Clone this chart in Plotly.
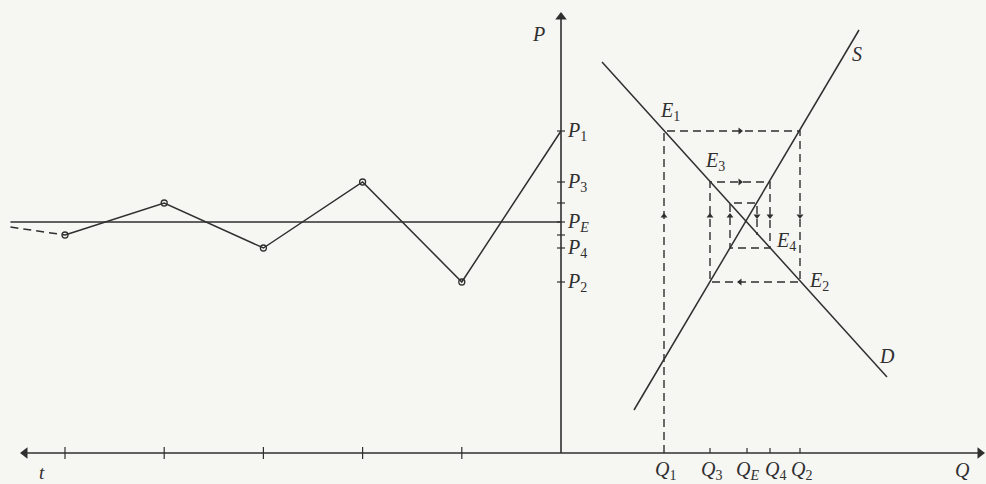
import plotly.graph_objects as go

# ---------------- data ----------------
# price levels (vertical axis units, axis origin = horizontal axis)
price_subs = ["1", "2", "3", "4", "", ""]
price_values = [322, 171, 271, 205, 250, 218]        # P1..P6
pe_value = 231                                       # equilibrium price P_E
# quantities reached in each period (horizontal axis units, right of P axis)
qty_subs = ["1", "2", "3", "4", "", ""]
qty_values = [103, 239, 149, 209, 169, 196]          # Q1..Q6
qe_value = 186                                       # equilibrium quantity Q_E
# demand and supply lines (end points)
demand_q = [41, 326]
demand_p = [391, 76]
supply_q = [73, 298]
supply_p = [43, 423]
# time path: periods 0..5 drawn to the left of the P axis
periods = [0, 1, 2, 3, 4, 5]
period_step = 99.2
lead_in_period = 5.55
lead_in_price = 226

INK = "#2f2f2f"
FONT = "Liberation Serif"
FS = 20
fig = go.Figure()

def line(x, y, dash=None, width=1.5):
    fig.add_trace(go.Scatter(x=x, y=y, mode="lines", hoverinfo="skip",
                             line=dict(color=INK, width=width, dash=dash)))

def label(x, y, text, anchor="center", size=FS):
    fig.add_annotation(x=x, y=y, text=text, showarrow=False, xanchor=anchor,
                       font=dict(family=FONT, size=size, color=INK))

# ---- axes with arrows ----
line([-538, 420], [0, 0], width=1.6)
line([0, 0], [0, 438], width=1.6)
fig.add_trace(go.Scatter(x=[-536, 419, 0], y=[0, 0, 436], mode="markers", hoverinfo="skip",
                         marker=dict(symbol=["triangle-left", "triangle-right", "triangle-up"],
                                     size=10, color=INK)))

# ticks on P axis
for p in price_values + [pe_value]:
    line([-4, 4], [p, p], width=1.2)
# ticks on Q axis
for q in [qty_values[1], qty_values[2], qty_values[3], qe_value]:
    line([q, q], [0, 5], width=1.2)
# ticks on t axis
time_x = [-t * period_step for t in periods]
for tx in time_x[1:]:
    line([tx, tx], [-6, 6], width=1.2)

# ---- demand & supply ----
line(demand_q, demand_p)
line(supply_q, supply_p)

# ---- time path ----
lead_x = -lead_in_period * period_step
line([lead_x, 0], [pe_value, pe_value], width=1.3)
line([lead_x, time_x[-1]], [lead_in_price, price_values[-1]], dash="8px,5px")
fig.add_trace(go.Scatter(x=time_x, y=price_values, mode="lines", hoverinfo="skip",
                         line=dict(color=INK, width=1.5)))
fig.add_trace(go.Scatter(x=time_x[1:], y=price_values[1:], mode="markers", hoverinfo="skip",
                         marker=dict(symbol="circle-open", size=6, color=INK, line=dict(width=1.3))))

# ---- cobweb ----
cx, cy = [qty_values[0]], [0]
for i in range(len(qty_values)):
    cx.append(qty_values[i]); cy.append(price_values[i])
    if i + 1 < len(qty_values):
        cx.append(qty_values[i + 1]); cy.append(price_values[i])
line(cx, cy, dash="8px,5px", width=1.4)

# arrowheads on cobweb segments
arrow_x, arrow_y, arrow_sym = [], [], []
arrow_level_y = 237
arrow_level_x = 179
for i in range(len(qty_values)):
    arrow_x.append(qty_values[i]); arrow_y.append(arrow_level_y)
    arrow_sym.append("triangle-up" if i % 2 == 0 else "triangle-down")
    if i + 1 < 4:
        arrow_x.append(arrow_level_x); arrow_y.append(price_values[i])
        arrow_sym.append("triangle-right" if qty_values[i + 1] > qty_values[i] else "triangle-left")
fig.add_trace(go.Scatter(x=arrow_x, y=arrow_y, mode="markers", hoverinfo="skip",
                         marker=dict(symbol=arrow_sym, size=6, color=INK)))

# ---- labels ----
label(-23, 419, "<i>P</i>")
label(296, 399, "<i>S</i>")
label(326, 97, "<i>D</i>")
label(401, -17, "<i>Q</i>")
label(-519, -19, "<i>t</i>", size=19)
for sub, p in zip(price_subs, price_values):
    if sub:
        label(4, p, "<i>P</i><sub>" + sub + "</sub>", anchor="left")
label(4, pe_value, "<i>P</i><sub><i>E</i></sub>", anchor="left")
q_label_dx = [1, 1, 1, 5, 0, 0]
for sub, q, dx in zip(qty_subs, qty_values, q_label_dx):
    if sub:
        label(q + dx, -17, "<i>Q</i><sub>" + sub + "</sub>")
label(qe_value, -17, "<i>Q</i><sub><i>E</i></sub>")
eq_subs = ["1", "2", "3", "4"]
eq_offsets = [(6, 20), (19, 1), (5, 21), (16, 7)]
for i, (sub, (dx, dy)) in enumerate(zip(eq_subs, eq_offsets)):
    label(qty_values[i] + dx, price_values[i] + dy, "<i>E</i><sub>" + sub + "</sub>")

fig.update_layout(
    width=986, height=484, margin=dict(l=0, r=0, t=0, b=0),
    paper_bgcolor="#f6f6f3", plot_bgcolor="#f6f6f3", showlegend=False,
    xaxis=dict(range=[-561, 425], visible=False, fixedrange=True),
    yaxis=dict(range=[-31, 453], visible=False, fixedrange=True),
)
fig.write_html("out.html", config={"displayModeBar": False},
               post_script="document.body.style.margin='0';document.body.style.overflow='hidden';")
